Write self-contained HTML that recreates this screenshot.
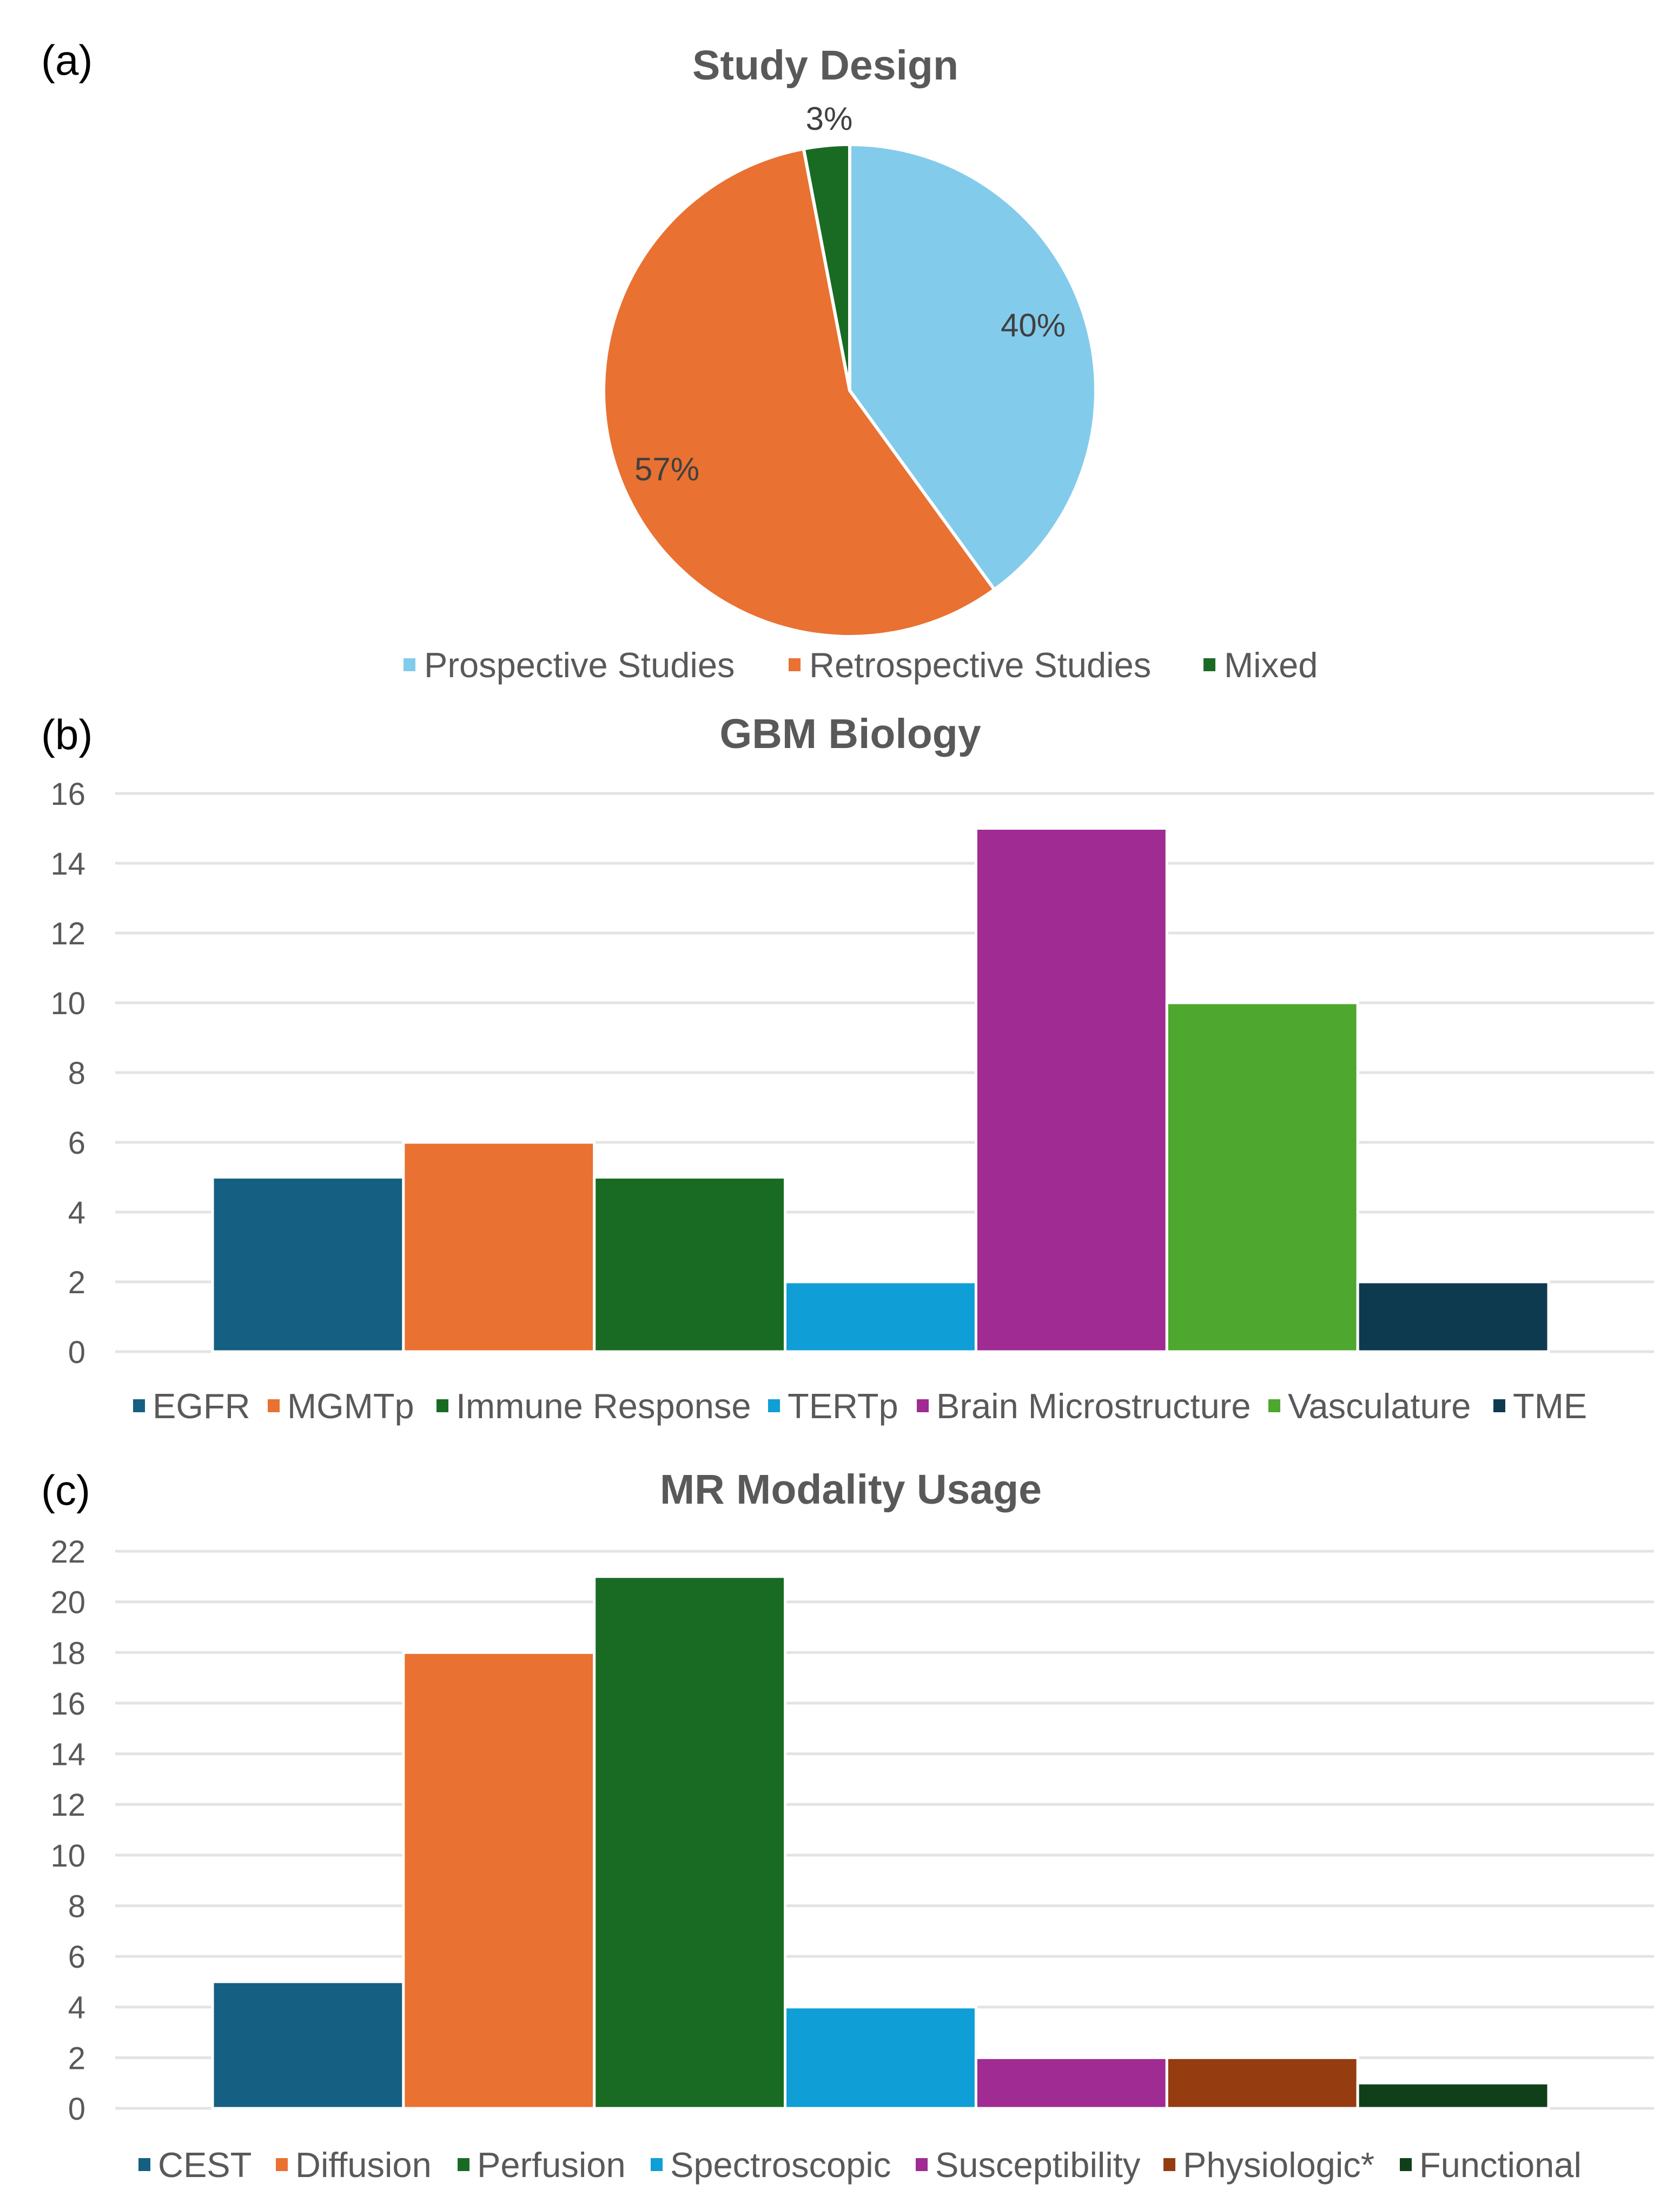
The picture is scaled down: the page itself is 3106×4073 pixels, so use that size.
<!DOCTYPE html>
<html><head><meta charset="utf-8"><style>
html,body{margin:0;padding:0;background:#fff;}
svg{display:block;font-family:"Liberation Sans",Arial,sans-serif;}
</style></head><body>
<svg id="fig" width="3106" height="4073" viewBox="0 0 3106 4073" xmlns="http://www.w3.org/2000/svg">
<rect width="3106" height="4073" fill="#fff"/>
<text x="76" y="138" font-size="78" fill="#000">(a)</text>
<text x="1526" y="147" font-size="77" font-weight="bold" fill="#595959" text-anchor="middle">Study Design</text>
<g id="pie"></g>
<g id="pieLegend"></g>
<text x="76" y="1385" font-size="78" fill="#000">(b)</text>
<text x="1572" y="1383" font-size="77" font-weight="bold" fill="#595959" text-anchor="middle">GBM Biology</text>
<g id="chartB"></g>
<text x="76" y="2782" font-size="78" fill="#000">(c)</text>
<text x="1573" y="2780" font-size="77" font-weight="bold" fill="#595959" text-anchor="middle">MR Modality Usage</text>
<g id="chartC"></g>
</svg>
<script>
const pieLabels = ["Prospective Studies","Retrospective Studies","Mixed"];
const pieValues = [40, 57, 3];
const pieColors = ["#83CBEB","#E97132","#196B24"];

const bCategories = ["EGFR","MGMTp","Immune Response","TERTp","Brain Microstructure","Vasculature","TME"];
const bValues = [5, 6, 5, 2, 15, 10, 2];
const bTicks = [0,2,4,6,8,10,12,14,16];
const bColors = ["#156082","#E97132","#196B24","#0F9ED5","#A02B93","#4EA72E","#0E3A50"];

const cCategories = ["CEST","Diffusion","Perfusion","Spectroscopic","Susceptibility","Physiologic*","Functional"];
const cValues = [5, 18, 21, 4, 2, 2, 1];
const cTicks = [0,2,4,6,8,10,12,14,16,18,20,22];
const cColors = ["#156082","#E97132","#196B24","#0F9ED5","#A02B93","#963C11","#10401A"];

const NS = "http://www.w3.org/2000/svg";
function mk(tag, attrs, parent){const e=document.createElementNS(NS,tag);for(const k in attrs)e.setAttribute(k,attrs[k]);parent.appendChild(e);return e;}

// Pie
(function(){
  const g=document.getElementById('pie');
  const cx=1571, cy=722, r=455;
  const total=pieValues.reduce((a,b)=>a+b,0);
  let a0=0;
  const labelPos=[[1910,622],[1233,888],[1533,240]];
  pieValues.forEach((v,i)=>{
    const a1=a0+v/total*2*Math.PI;
    const x0=cx+r*Math.sin(a0), y0=cy-r*Math.cos(a0);
    const x1=cx+r*Math.sin(a1), y1=cy-r*Math.cos(a1);
    const large=(a1-a0)>Math.PI?1:0;
    const p=mk('path',{d:`M${cx},${cy} L${x0},${y0} A${r},${r} 0 ${large} 1 ${x1},${y1} Z`,fill:pieColors[i],stroke:'#fff','stroke-width':6,'stroke-linejoin':'round'},g);
    
    
    const t=mk('text',{x:labelPos[i][0],y:labelPos[i][1],'font-size':60,fill:'#404040','text-anchor':'middle'},g);
    t.textContent=Math.round(v/total*100)+'%';
    
    
    a0=a1;
  });
  const lg=document.getElementById('pieLegend');
  const tx=[784,1496,2263];
  pieLabels.forEach((l,i)=>{
    const m=mk('rect',{x:tx[i]-38,y:1217,width:22,height:24,fill:pieColors[i]},lg);
    
    
    const t=mk('text',{x:tx[i],y:1252,'font-size':65,fill:'#595959'},lg);
    t.textContent=l;
    
    
  });
})();

function barChart(id, cats, vals, ticks, colors, top, bottom, legendY, legendX){
  const g=document.getElementById(id);
  const left=213, right=3058;
  const maxT=ticks[ticks.length-1];
  const y=v=>bottom-(v/maxT)*(bottom-top);
  ticks.forEach(t=>{
    const l=mk('line',{x1:left,x2:right,y1:y(t),y2:y(t),stroke:'#e3e3e3','stroke-width':5},g);
    
    
    const tx=mk('text',{x:158,y:y(t)+21,'font-size':58,fill:'#595959','text-anchor':'end'},g);
    tx.textContent=t;
    
    
  });
  const start=393, end=2863, step=(end-start)/cats.length;
  const x=i=>start+i*step;
  vals.forEach((v,i)=>{
    const r=mk('rect',{x:x(i),y:y(v),width:step,height:bottom-y(v),fill:colors[i],stroke:'#fff','stroke-width':5},g);
    
    
  });
  cats.forEach((c,i)=>{
    const m=mk('rect',{x:legendX[i]-36,y:legendY-35,width:22,height:24,fill:colors[i]},g);
    
    
    const t=mk('text',{x:legendX[i],y:legendY,'font-size':65,fill:'#595959'},g);
    t.textContent=c;
    
    
  });
}
barChart('chartB', bCategories, bValues, bTicks, bColors, 1467, 2499, 2622, [282,531,843,1456,1731,2381,2797]);
barChart('chartC', cCategories, cValues, cTicks, cColors, 2868, 3898, 4025, [292,546,882,1239,1729,2187,2624]);
</script>
</body></html>
